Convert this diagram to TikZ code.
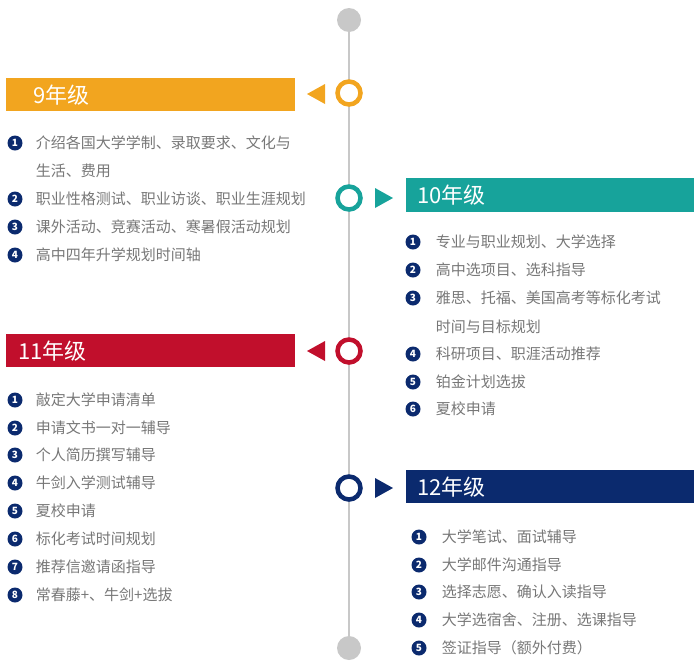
\documentclass[tikz,border=0pt]{standalone}
\usepackage{fontspec}
\setmainfont{Noto Sans CJK SC}
\usetikzlibrary{positioning}
\definecolor{gold}{HTML}{F2A51F}
\definecolor{sea}{HTML}{17A39B}
\definecolor{crimson}{HTML}{C10F2C}
\definecolor{navy}{HTML}{0B2A6E}
\definecolor{linegrey}{HTML}{C8C8C8}
\definecolor{textgrey}{HTML}{777777}
\tikzset{
  head/.style={anchor=west, inner sep=0pt, text=white, font=\fontsize{22}{22}\selectfont},
  ring/.style={circle, draw=#1, line width=4.5pt, fill=white, minimum size=23pt, inner sep=0pt},
  dot/.style={circle, fill=linegrey, minimum size=24pt, inner sep=0pt},
  num/.style={circle, fill=navy, text=white, minimum size=15pt, inner sep=0pt, font=\fontsize{10}{10}\selectfont\bfseries},
  item/.style={anchor=west, inner sep=0pt, text=textgrey, font=\fontsize{15}{15}\selectfont},
}
\begin{document}
\begin{tikzpicture}[x=1pt, y=-1pt]
    \useasboundingbox (0,0) rectangle (700,667);
    \node[dot] (top) at (349,20) {};
    \node[dot] (bottom) at (349,648) {};
    \draw[linegrey, line width=2pt] (top) -- (bottom);

    % 9年级
    \fill[gold] (6,78) rectangle (295,111);
    \node[head] (h9) at (33,95) {9年级};
    \fill[gold] (307,94) -- (325,84) -- (325,104) -- cycle;
    \node[ring=gold] (r9) at (349,93) {};
    \node[num] (a1) at (15,143) {1};
    \node[item, right=13pt of a1] (a1t) {介绍各国大学学制、录取要求、文化与};
    \node[item] (a1u) at (a1t.west |- 0,171) {生活、费用};
    \node[num] (a2) at (15,199) {2};
    \node[item, right=13pt of a2] (a2t) {职业性格测试、职业访谈、职业生涯规划};
    \node[num] (a3) at (15,227) {3};
    \node[item, right=13pt of a3] (a3t) {课外活动、竞赛活动、寒暑假活动规划};
    \node[num] (a4) at (15,255) {4};
    \node[item, right=13pt of a4] (a4t) {高中四年升学规划时间轴};

    % 10年级
    \fill[sea] (406,178) rectangle (694,212);
    \node[head] (h10) at (417,195) {10年级};
    \fill[sea] (393,198) -- (375,188) -- (375,208) -- cycle;
    \node[ring=sea] (r10) at (349,198) {};
    \node[num] (b1) at (413,242) {1};
    \node[item, right=15pt of b1] (b1t) {专业与职业规划、大学选择};
    \node[num] (b2) at (413,270) {2};
    \node[item, right=15pt of b2] (b2t) {高中选项目、选科指导};
    \node[num] (b3) at (413,298) {3};
    \node[item, right=15pt of b3] (b3t) {雅思、托福、美国高考等标化考试};
    \node[item] (b3u) at (b3t.west |- 0,327) {时间与目标规划};
    \node[num] (b4) at (413,354) {4};
    \node[item, right=15pt of b4] (b4t) {科研项目、职涯活动推荐};
    \node[num] (b5) at (413,382) {5};
    \node[item, right=15pt of b5] (b5t) {铂金计划选拔};
    \node[num] (b6) at (413,409) {6};
    \node[item, right=15pt of b6] (b6t) {夏校申请};

    % 11年级
    \fill[crimson] (6,334) rectangle (295,367);
    \node[head] (h11) at (18,351) {11年级};
    \fill[crimson] (307,351) -- (325,341) -- (325,361) -- cycle;
    \node[ring=crimson] (r11) at (349,351) {};
    \node[num] (c1) at (15,400) {1};
    \node[item, right=13pt of c1] (c1t) {敲定大学申请清单};
    \node[num] (c2) at (15,428) {2};
    \node[item, right=13pt of c2] (c2t) {申请文书一对一辅导};
    \node[num] (c3) at (15,455) {3};
    \node[item, right=13pt of c3] (c3t) {个人简历撰写辅导};
    \node[num] (c4) at (15,483) {4};
    \node[item, right=13pt of c4] (c4t) {牛剑入学测试辅导};
    \node[num] (c5) at (15,511) {5};
    \node[item, right=13pt of c5] (c5t) {夏校申请};
    \node[num] (c6) at (15,539) {6};
    \node[item, right=13pt of c6] (c6t) {标化考试时间规划};
    \node[num] (c7) at (15,567) {7};
    \node[item, right=13pt of c7] (c7t) {推荐信邀请函指导};
    \node[num] (c8) at (15,595) {8};
    \node[item, right=13pt of c8] (c8t) {常春藤+、牛剑+选拔};

    % 12年级
    \fill[navy] (406,470) rectangle (694,503);
    \node[head] (h12) at (417,487) {12年级};
    \fill[navy] (393,488) -- (375,478) -- (375,498) -- cycle;
    \node[ring=navy] (r12) at (349,488) {};
    \node[num] (d1) at (419,537) {1};
    \node[item, right=15pt of d1] (d1t) {大学笔试、面试辅导};
    \node[num] (d2) at (419,565) {2};
    \node[item, right=15pt of d2] (d2t) {大学邮件沟通指导};
    \node[num] (d3) at (419,592) {3};
    \node[item, right=15pt of d3] (d3t) {选择志愿、确认入读指导};
    \node[num] (d4) at (419,620) {4};
    \node[item, right=15pt of d4] (d4t) {大学选宿舍、注册、选课指导};
    \node[num] (d5) at (419,648) {5};
    \node[item, right=15pt of d5] (d5t) {签证指导（额外付费）};
\end{tikzpicture}
\end{document}
